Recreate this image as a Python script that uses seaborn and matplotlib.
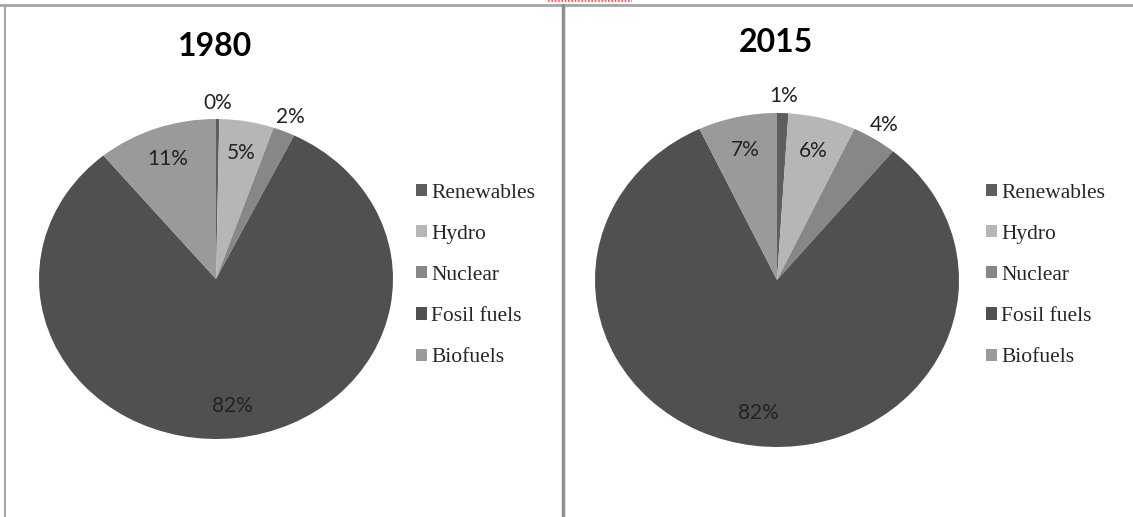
import matplotlib
matplotlib.use("Agg")
import matplotlib.pyplot as plt
import seaborn as sns
import numpy as np
from matplotlib.lines import Line2D

sns.set_theme(style="white")

sources = ["Renewables", "Hydro", "Nuclear", "Fosil fuels", "Biofuels"]
years = ["1980", "2015"]
share_1980 = [0.3, 5, 2, 82, 11]
share_2015 = [1, 6, 4, 82, 7]
grays = ["#5e5e5e", "#b6b6b6", "#878787", "#505050", "#9a9a9a"]

W, H = 1133, 517
fig = plt.figure(figsize=(W / 100, H / 100), dpi=100)
fig.patch.set_facecolor("white")

# pixel boxes of the two pies (left, top, right, bottom) and title / legend spots
pie_boxes = [(39, 119, 393, 439), (595, 113, 959, 447)]
title_pos = [(215, 47), (776, 42)]
legend_x = [416, 986]


def px(x, y):
    return x / W, 1 - y / H


for i, vals in enumerate([share_1980, share_2015]):
    l, t, r, b = pie_boxes[i]
    x0, y0 = px(l, b)
    ax = fig.add_axes([x0, y0, (r - l) / W, (b - t) / H])
    wedges, _, autotexts = ax.pie(
        vals, colors=grays, startangle=90, counterclock=False,
        autopct="%.0f%%", pctdistance=0.8,
        wedgeprops=dict(linewidth=0),
        textprops=dict(fontsize=15, color="#222222", family="Lato"),
    )
    ax.set_aspect("auto")
    ax.set_xlim(-1, 1)
    ax.set_ylim(-1, 1)
    ax.axis("off")

    # small slices get their label outside the pie
    for w, txt, v in zip(wedges, autotexts, vals):
        pct = 100 * v / sum(vals)
        if pct < 4.5:
            ang = np.deg2rad((w.theta1 + w.theta2) / 2)
            txt.set_position((1.1 * np.cos(ang), 1.1 * np.sin(ang)))
            txt.set_clip_on(False)

    tx, ty = px(*title_pos[i])
    fig.text(tx, ty, years[i], ha="center", va="center", fontsize=23,
             fontweight="bold", family="Lato", color="black")

    lx, ly = px(legend_x[i], 275.5)
    fig.legend(wedges, sources, loc="center left", bbox_to_anchor=(lx, ly),
               bbox_transform=fig.transFigure, frameon=False, borderpad=0,
               borderaxespad=0, handlelength=0.5, handleheight=0.5,
               handletextpad=0.2, labelspacing=1.03,
               prop=dict(family="Liberation Serif", size=15.5))

# panel borders
fig.add_artist(Line2D([0, 1], [1 - 4.5 / H] * 2, color="#a6a6a6", lw=2,
                      transform=fig.transFigure))
fig.add_artist(Line2D([5.5 / W] * 2, [0, 1 - 4.5 / H], color="#a6a6a6", lw=1.5,
                      transform=fig.transFigure))
fig.add_artist(Line2D([562.5 / W] * 2, [0, 1 - 4.5 / H], color="#8f8f8f", lw=2.5,
                      transform=fig.transFigure))
# red spell-check underline of the cut off heading above
fig.add_artist(Line2D([548 / W, 632 / W], [1 - 1 / H] * 2, color="#ff4040",
                      lw=1.2, ls=(0, (1, 1)), transform=fig.transFigure))

fig.savefig("out.png", dpi=100, facecolor="white")
